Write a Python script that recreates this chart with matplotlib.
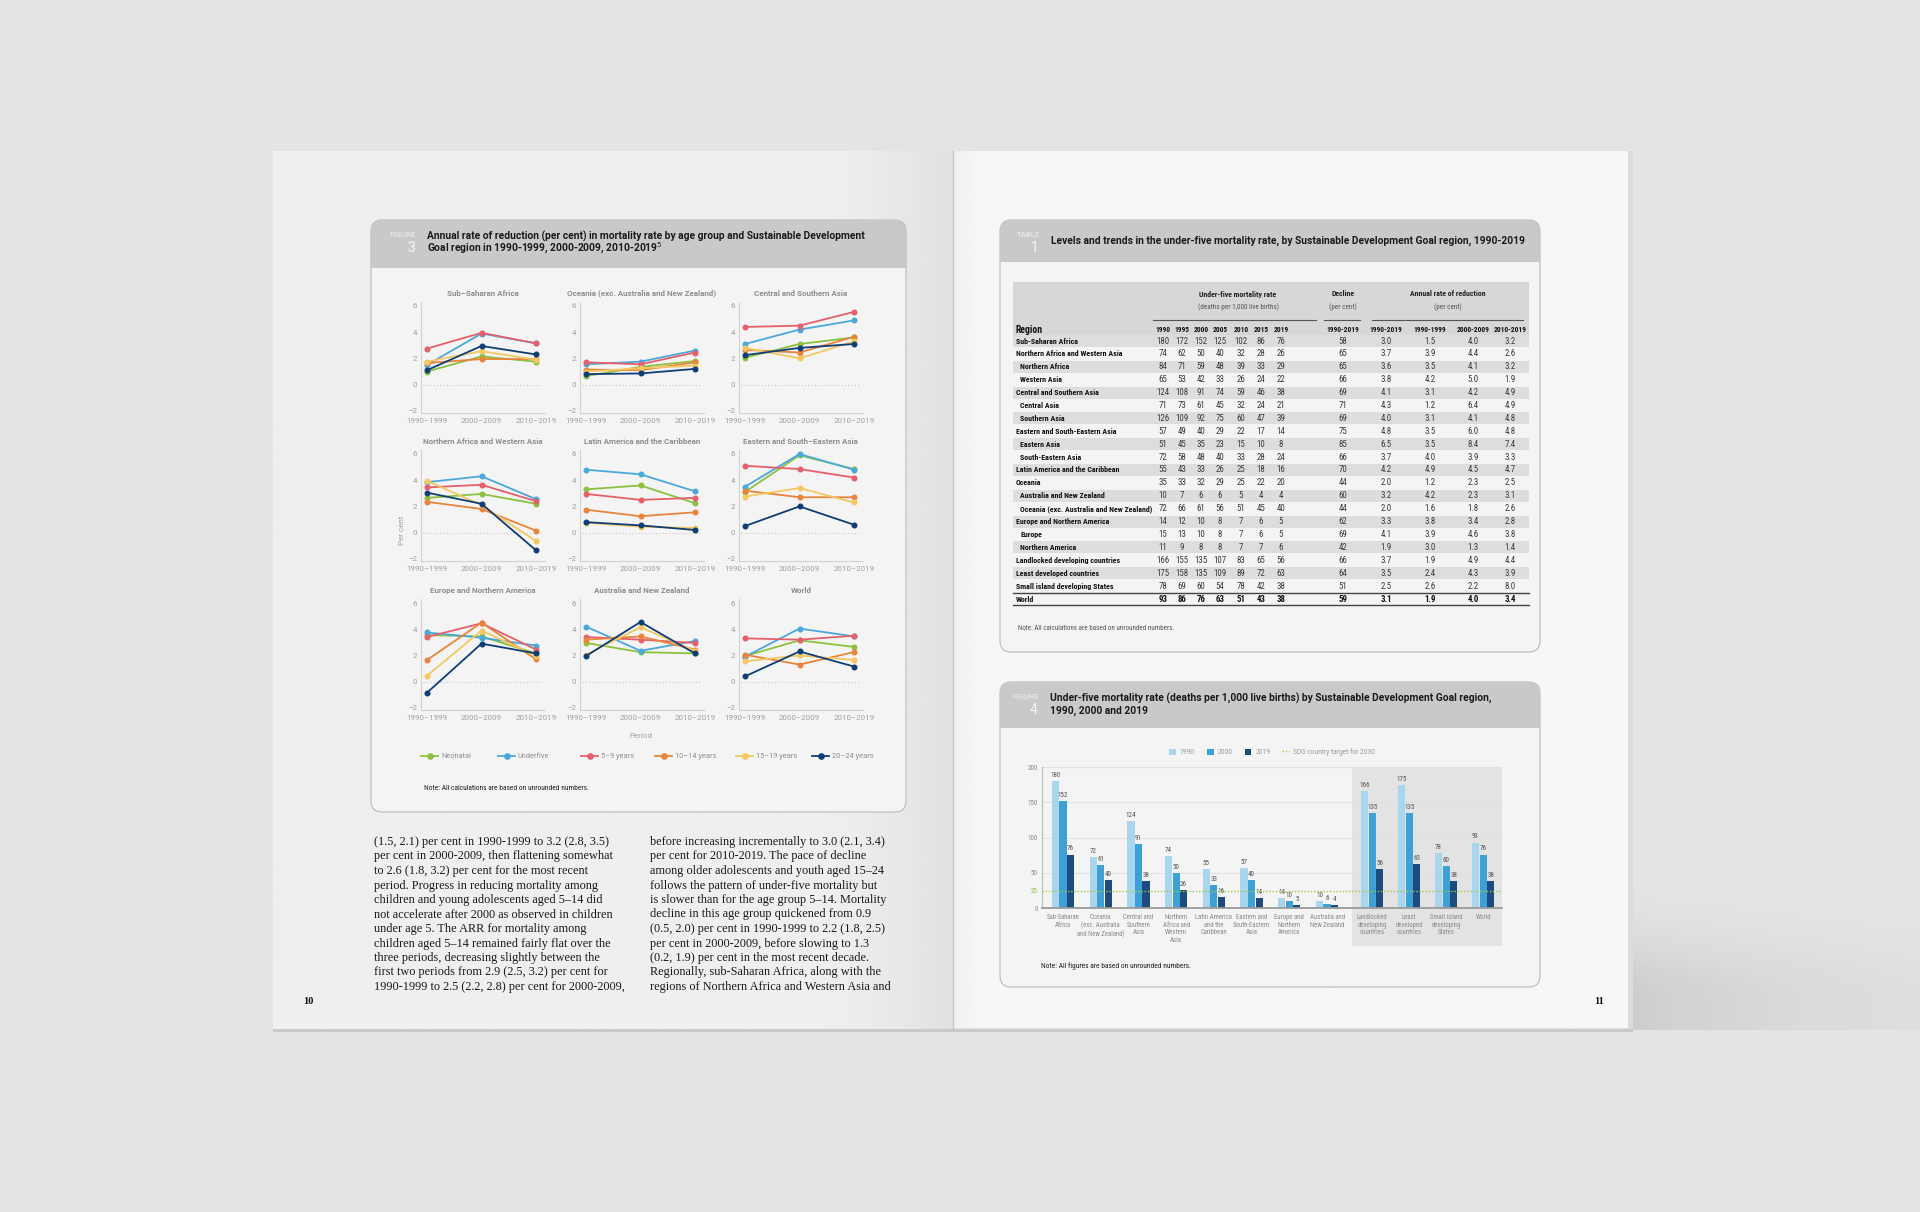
import numpy as np
import matplotlib
matplotlib.use('Agg')
import matplotlib.pyplot as plt
from matplotlib.patches import FancyBboxPatch, Rectangle, Patch
from matplotlib.lines import Line2D
from matplotlib import font_manager

W, H = 1920, 1212

# ---------------- Figure 3: annual rate of reduction (per cent)
PERIODS = ['1990–1999', '2000–2009', '2010–2019']
AGE_GROUPS = ['Neonatal', 'Underfive', '5–9 years', '10–14 years', '15–19 years', '20–24 years']
AGE_COLORS = ['#8dc03f', '#4aa8dc', '#e5606a', '#e9843c', '#f3c862', '#0f3e75']
F3_REGIONS = ['Sub–Saharan Africa', 'Oceania (exc. Australia and New Zealand)', 'Central and Southern Asia',
              'Northern Africa and Western Asia', 'Latin America and the Caribbean',
              'Eastern and South–Eastern Asia', 'Europe and Northern America',
              'Australia and New Zealand', 'World']
# one row per region (same order as F3_REGIONS), one value per period
NEONATAL = [[1.0, 2.15, 1.75], [0.65, 1.35, 1.8], [2.05, 3.1, 3.6],
            [2.65, 2.95, 2.2], [3.3, 3.6, 2.25], [3.1, 5.9, 4.85],
            [3.55, 3.45, 2.15], [2.95, 2.25, 2.15], [1.95, 3.15, 2.65]]
UNDERFIVE = [[1.5, 3.9, 3.15], [1.55, 1.75, 2.6], [3.1, 4.2, 4.9],
             [3.85, 4.3, 2.55], [4.8, 4.45, 3.15], [3.5, 6.0, 4.8],
             [3.75, 3.35, 2.75], [4.2, 2.35, 3.1], [1.9, 4.05, 3.45]]
AGE_5_9 = [[2.75, 3.95, 3.15], [1.7, 1.55, 2.45], [4.4, 4.5, 5.55],
           [3.45, 3.65, 2.4], [2.95, 2.5, 2.65], [5.1, 4.85, 4.2],
           [3.4, 4.45, 2.45], [3.4, 3.2, 2.95], [3.3, 3.2, 3.5]]
AGE_10_14 = [[1.65, 1.95, 1.95], [1.15, 1.1, 1.7], [2.65, 2.45, 3.65],
             [2.35, 1.8, 0.15], [1.75, 1.25, 1.55], [3.2, 2.7, 2.7],
             [1.65, 4.5, 1.7], [3.2, 3.45, 2.45], [2.05, 1.3, 2.25]]
AGE_15_19 = [[1.75, 2.55, 1.9], [1.0, 1.25, 1.45], [2.8, 2.0, 3.3],
             [3.95, 2.1, -0.65], [0.75, 0.45, 0.35], [2.75, 3.4, 2.3],
             [0.45, 3.9, 1.95], [2.05, 4.15, 2.35], [1.55, 2.0, 1.65]]
AGE_20_24 = [[1.1, 2.95, 2.3], [0.8, 0.85, 1.2], [2.25, 2.8, 3.1],
             [3.05, 2.2, -1.35], [0.8, 0.55, 0.2], [0.5, 2.0, 0.6],
             [-0.85, 2.9, 2.15], [1.95, 4.55, 2.15], [0.4, 2.3, 1.15]]
F3_SERIES = [NEONATAL, UNDERFIVE, AGE_5_9, AGE_10_14, AGE_15_19, AGE_20_24]

# ---------------- Table 1
T_REGIONS = ['Sub-Saharan Africa', 'Northern Africa and Western Asia', 'Northern Africa', 'Western Asia',
             'Central and Southern Asia', 'Central Asia', 'Southern Asia', 'Eastern and South-Eastern Asia',
             'Eastern Asia', 'South-Eastern Asia', 'Latin America and the Caribbean', 'Oceania',
             'Australia and New Zealand', 'Oceania (exc. Australia and New Zealand)',
             'Europe and Northern America', 'Europe', 'Northern America', 'Landlocked developing countries',
             'Least developed countries', 'Small island developing States', 'World']
T_SUB = [0, 0, 1, 1, 0, 1, 1, 0, 1, 1, 0, 0, 1, 1, 0, 1, 1, 0, 0, 0, 0]
T_YEARS = ['1990', '1995', '2000', '2005', '2010', '2015', '2019']
T_U5MR = [[180, 172, 152, 125, 102, 86, 76], [74, 62, 50, 40, 32, 28, 26], [84, 71, 59, 48, 39, 33, 29],
          [65, 53, 42, 33, 26, 24, 22], [124, 108, 91, 74, 59, 46, 38], [71, 73, 61, 45, 32, 24, 21],
          [126, 109, 92, 75, 60, 47, 39], [57, 49, 40, 29, 22, 17, 14], [51, 45, 35, 23, 15, 10, 8],
          [72, 58, 48, 40, 33, 28, 24], [55, 43, 33, 26, 25, 18, 16], [35, 33, 32, 29, 25, 22, 20],
          [10, 7, 6, 6, 5, 4, 4], [72, 66, 61, 56, 51, 45, 40], [14, 12, 10, 8, 7, 6, 5],
          [15, 13, 10, 8, 7, 6, 5], [11, 9, 8, 8, 7, 7, 6], [166, 155, 135, 107, 83, 65, 56],
          [175, 158, 135, 109, 89, 72, 63], [78, 69, 60, 54, 78, 42, 38], [93, 86, 76, 63, 51, 43, 38]]
T_DECLINE = [58, 65, 65, 66, 69, 71, 69, 75, 85, 66, 70, 44, 60, 44, 62, 69, 42, 66, 64, 51, 59]
T_ARR_PERIODS = ['1990-2019', '1990-1999', '2000-2009', '2010-2019']
T_ARR = [[3.0, 1.5, 4.0, 3.2], [3.7, 3.9, 4.4, 2.6], [3.6, 3.5, 4.1, 3.2], [3.8, 4.2, 5.0, 1.9],
         [4.1, 3.1, 4.2, 4.9], [4.3, 1.2, 6.4, 4.9], [4.0, 3.1, 4.1, 4.8], [4.8, 3.5, 6.0, 4.8],
         [6.5, 3.5, 8.4, 7.4], [3.7, 4.0, 3.9, 3.3], [4.2, 4.9, 4.5, 4.7], [2.0, 1.2, 2.3, 2.5],
         [3.2, 4.2, 2.3, 3.1], [2.0, 1.6, 1.8, 2.6], [3.3, 3.8, 3.4, 2.8], [4.1, 3.9, 4.6, 3.8],
         [1.9, 3.0, 1.3, 1.4], [3.7, 1.9, 4.9, 4.4], [3.5, 2.4, 4.3, 3.9], [2.5, 2.6, 2.2, 8.0],
         [3.1, 1.9, 4.0, 3.4]]

# ---------------- Figure 4: under-five mortality rate
F4_REGIONS = ['Sub-Saharan\nAfrica', 'Oceania\n(exc. Australia\nand New Zealand)', 'Central and\nSouthern\nAsia',
              'Northern\nAfrica and\nWestern\nAsia', 'Latin America\nand the\nCaribbean',
              'Eastern and\nSouth-Eastern\nAsia', 'Europe and\nNorthern\nAmerica', 'Australia and\nNew Zealand',
              'Landlocked\ndeveloping\ncountries', 'Least\ndeveloped\ncountries', 'Small island\ndeveloping\nStates',
              'World']
F4_1990 = [180, 72, 124, 74, 55, 57, 14, 10, 166, 175, 78, 93]
F4_2000 = [152, 61, 91, 50, 33, 40, 10, 6, 135, 135, 60, 76]
F4_2019 = [76, 40, 38, 26, 16, 14, 5, 4, 56, 63, 38, 38]
SDG_TARGET = 25

TEXT_COL1 = ["(1.5, 2.1) per cent in 1990-1999 to 3.2 (2.8, 3.5)",
             "per cent in 2000-2009, then flattening somewhat",
             "to 2.6 (1.8, 3.2) per cent for the most recent",
             "period. Progress in reducing mortality among",
             "children and young adolescents aged 5–14 did",
             "not accelerate after 2000 as observed in children",
             "under age 5. The ARR for mortality among",
             "children aged 5–14 remained fairly flat over the",
             "three periods, decreasing slightly between the",
             "first two periods from 2.9 (2.5, 3.2) per cent for",
             "1990-1999 to 2.5 (2.2, 2.8) per cent for 2000-2009,"]
TEXT_COL2 = ["before increasing incrementally to 3.0 (2.1, 3.4)",
             "per cent for 2010-2019. The pace of decline",
             "among older adolescents and youth aged 15–24",
             "follows the pattern of under-five mortality but",
             "is slower than for the age group 5–14. Mortality",
             "decline in this age group quickened from 0.9",
             "(0.5, 2.0) per cent in 1990-1999 to 2.2 (1.8, 2.5)",
             "per cent in 2000-2009, before slowing to 1.3",
             "(0.2, 1.9) per cent in the most recent decade.",
             "Regionally, sub-Saharan Africa, along with the",
             "regions of Northern Africa and Western Asia and"]

avail = {f.name for f in font_manager.fontManager.ttflist}


def pick(*names):
    for n in names:
        if n in avail:
            return n
    return 'DejaVu Sans'


NARROW = pick('Liberation Sans Narrow', 'Roboto Condensed', 'DejaVu Sans')
SANS = pick('Roboto', 'Lato', 'DejaVu Sans')
SERIF = pick('Liberation Serif', 'DejaVu Serif')

fig = plt.figure(figsize=(W / 100, H / 100), dpi=100, facecolor='#e4e4e4')
bg = fig.add_axes([0, 0, 1, 1])
bg.axis('off')


def px_axes(x0, y0, x1, y1):
    return fig.add_axes([x0 / W, 1 - y1 / H, (x1 - x0) / W, (y1 - y0) / H])


# ---------------- pages
t = np.linspace(0, 1, 256)
left_shade = 0.935 - 0.055 * np.clip((t - 0.8) / 0.2, 0, 1) ** 1.6
bg.imshow(np.tile(left_shade, (2, 1)), cmap='gray', vmin=0, vmax=1, extent=[273, 953, 1029, 151],
          interpolation='bilinear', aspect='auto')
right_shade = 0.968 - 0.03 * np.clip((0.05 - t) / 0.05, 0, 1) ** 2
bg.imshow(np.tile(right_shade, (2, 1)), cmap='gray', vmin=0, vmax=1, extent=[953, 1628, 1028, 151],
          interpolation='bilinear', aspect='auto')
# soft drop shadow to the right of the book
sy = np.linspace(0, 1, 160)
sx = np.linspace(0, 1, 200)
ay = np.clip(sy / 0.85, 0, 1) ** 2.2
ay = ay * ay * (3 - 2 * ay)
ax_ = np.exp(-sx * 1.4)
sh = np.zeros((160, 200, 4))
sh[..., 3] = 0.10 * ay[:, None] * ax_[None, :]
bg.imshow(sh, extent=[1633, 1920, 1030, 820], interpolation='bilinear', aspect='auto')
bg.add_patch(Rectangle((1628, 151), 5, 879, fc='#dcdcdc', ec='none'))
bg.add_patch(Rectangle((273, 1029), 1360, 2.5, fc='#c9c9c9', ec='none'))
bg.plot([953, 953], [151, 1029], color='#c4c4c4', lw=0.9)
bg.set_xlim(0, W)
bg.set_ylim(H, 0)

bg.text(308, 1002, '10', family=SERIF, fontweight='bold', fontsize=7.5, ha='center', va='center', color='#111')
bg.text(1599, 1001, '11', family=SERIF, fontweight='bold', fontsize=7.5, ha='center', va='center', color='#111')


def panel(x0, y0, x1, y1, head_bottom, kind, num, title_lines, title_x):
    box = FancyBboxPatch((x0, y0), x1 - x0, y1 - y0, boxstyle='round,pad=0,rounding_size=11',
                         fc='#f4f4f4', ec='#b9b9b9', lw=0.8)
    bg.add_patch(box)
    hd = Rectangle((x0, y0), x1 - x0, head_bottom - y0, fc='#c9c9c9', ec='none')
    bg.add_patch(hd)
    hd.set_clip_path(box)
    bg.text(title_x - 11, y0 + 15, kind, family=SANS, fontsize=5.8, color='#efefef', ha='right', va='center')
    bg.text(title_x - 12, y0 + 28, num, family=SANS, fontsize=10, color='#f7f7f7', ha='right', va='center')
    if len(title_lines) == 1:
        bg.text(title_x, y0 + 21, title_lines[0], family=SANS, fontweight='bold', fontsize=7.4,
                color='#1a1a1a', va='center')
    else:
        for i, ln in enumerate(title_lines):
            bg.text(title_x, y0 + 16 + 12.5 * i, ln, family=SANS, fontweight='bold', fontsize=7.4,
                    color='#1a1a1a', va='center')


# ---------------- Figure 3 panel
panel(371, 220, 906, 812, 268, 'FIGURE', '3',
      ['Annual rate of reduction (per cent) in mortality rate by age group and Sustainable Development',
       'Goal region in 1990-1999, 2000-2009, 2010-2019$^5$'], 427)

COL_P0 = [427, 586, 745]
ROW_Y6 = [306, 454, 603]
XU, YU = 54.5, 13.1
for k, name in enumerate(F3_REGIONS):
    r, c = divmod(k, 3)
    p0, y6 = COL_P0[c], ROW_Y6[r]
    ax = px_axes(p0 - 0.11 * XU, y6 - 0.3 * YU, p0 + 2.16 * XU, y6 + 8.2 * YU)
    ax.set_xlim(-0.11, 2.16)
    ax.set_ylim(-2.2, 6.3)
    ax.patch.set_alpha(0)
    for s in ['top', 'right']:
        ax.spines[s].set_visible(False)
    for s in ['left', 'bottom']:
        ax.spines[s].set_color('#d2d2d2')
        ax.spines[s].set_linewidth(0.8)
    ax.axhline(0, color='#c9c9c9', ls=(0, (1, 2)), lw=0.8, xmin=0.02, xmax=0.97)
    for vals, col in zip(F3_SERIES, AGE_COLORS):
        ax.plot(range(3), vals[k], color=col, lw=1.3, marker='o', ms=3.3, mec=col)
    ax.set_xticks(range(3))
    ax.set_xticklabels(PERIODS)
    ax.set_yticks([-2, 0, 2, 4, 6])
    ax.tick_params(length=0, labelsize=5.7, labelcolor='#a0a0a0', pad=3)
    for lb in ax.get_xticklabels() + ax.get_yticklabels():
        lb.set_family(SANS)
    ax.set_title(name, fontsize=5.8, color='#8e8e8e', fontweight='bold', family=SANS, pad=4.5)

bg.text(402, 530, 'Per cent', rotation=90, fontsize=5.8, color='#a0a0a0', family=SANS, ha='center', va='center')
bg.text(641, 736, 'Period', fontsize=5.8, color='#a0a0a0', family=SANS, ha='center', va='center')
# legend, evenly spaced entries as in the printed figure
for x0, lab, col in zip([421, 498, 581, 655, 736, 812], AGE_GROUPS, AGE_COLORS):
    bg.plot([x0, x0 + 17], [756, 756], color=col, lw=1.3)
    bg.plot([x0 + 8.5], [756], marker='o', ms=3.8, color=col)
    bg.text(x0 + 20, 756, lab, family=SANS, fontsize=5.3, color='#8e8e8e', va='center')
bg.text(424, 789, 'Note: All calculations are based on unrounded numbers.', family=NARROW, fontsize=5.4,
        color='#222', va='center')

# ---------------- Table 1 panel
panel(1000, 220, 1540, 652, 262, 'TABLE', '1',
      ['Levels and trends in the under-five mortality rate, by Sustainable Development Goal region, 1990-2019'],
      1051)

TX0, TX1 = 1013, 1529
COLX = [1163, 1182, 1201, 1220, 1241, 1261, 1281, 1343, 1386, 1430, 1473, 1510]
ROW0, PITCH = 341, 12.9
bg.add_patch(Rectangle((TX0, 282), TX1 - TX0, ROW0 - PITCH / 2 - 282, fc='#d7d7d7', ec='none'))
for i in range(len(T_REGIONS) - 1):
    if i % 2 == 0:
        bg.add_patch(Rectangle((TX0, ROW0 + PITCH * i - PITCH / 2 + 0.5), TX1 - TX0, PITCH - 1,
                               fc='#dddddd', ec='none'))
bg.text(1238, 294, 'Under-five mortality rate', family=NARROW, fontweight='bold', fontsize=5.6,
        ha='center', va='center', color='#222')
bg.text(1238, 307, '(deaths per 1,000 live births)', family=NARROW, fontsize=5.1, ha='center',
        va='center', color='#555')
bg.text(1343, 294, 'Decline', family=NARROW, fontweight='bold', fontsize=5.6, ha='center', va='center',
        color='#222')
bg.text(1343, 307, '(per cent)', family=NARROW, fontsize=5.1, ha='center', va='center', color='#555')
bg.text(1448, 294, 'Annual rate of reduction', family=NARROW, fontweight='bold', fontsize=5.6,
        ha='center', va='center', color='#222')
bg.text(1448, 307, '(per cent)', family=NARROW, fontsize=5.1, ha='center', va='center', color='#555')
for a, b in [(1153, 1316), (1324, 1360), (1372, 1523)]:
    bg.plot([a, b], [319.5, 319.5], color='#555', lw=0.8)
bg.text(1015, 330, 'Region', family=NARROW, fontweight='bold', fontsize=7, va='center', color='#111')
for x, lab in zip(COLX, T_YEARS + ['1990-2019'] + T_ARR_PERIODS):
    bg.text(x, 330, lab, family=NARROW, fontweight='bold', fontsize=5.3, ha='center', va='center',
            color='#111')
for i, reg in enumerate(T_REGIONS):
    y = ROW0 + PITCH * i
    is_world = reg == 'World'
    bg.text(1015.5 + 5 * T_SUB[i], y, reg, family=NARROW, fontweight='bold', fontsize=5.7,
            va='center', color='#111')
    cells = [str(v) for v in T_U5MR[i]] + [str(T_DECLINE[i])] + ['%.1f' % v for v in T_ARR[i]]
    for x, s in zip(COLX, cells):
        bg.text(x, y, s, family=NARROW, fontsize=6.4, fontweight='bold' if is_world else 'normal',
                ha='center', va='center', color='#111' if is_world else '#3a3a3a')
bg.plot([TX0, TX1], [ROW0 + PITCH * 19.5, ROW0 + PITCH * 19.5], color='#444', lw=1.0)
bg.plot([TX0, TX1], [ROW0 + PITCH * 20.5, ROW0 + PITCH * 20.5], color='#444', lw=1.0)
bg.text(1018, 629, 'Note: All calculations are based on unrounded numbers.', family=NARROW, fontsize=5.0,
        color='#555', va='center')

# ---------------- Figure 4 panel
panel(1000, 682, 1540, 987, 728, 'FIGURE', '4',
      ['Under-five mortality rate (deaths per 1,000 live births) by Sustainable Development Goal region,',
       '1990, 2000 and 2019'], 1050)

pos = np.concatenate([np.arange(8), 8.2 + np.arange(4) * 0.98])
ax4 = px_axes(1042, 767, 1502, 908.3)
ax4.set_xlim(-0.557, 11.64)
ax4.set_ylim(0, 200)
ax4.patch.set_alpha(0)
ax4.axvspan(7.67, 11.64, ymin=-0.265, ymax=1, color='#e3e3e3', zorder=0, clip_on=False, lw=0)
for gy in [50, 100, 150, 200]:
    ax4.axhline(gy, color='#e1e1e1', lw=0.8, zorder=0.5)
bw = 0.2
for off, vals, col in [(-bw, F4_1990, '#a9d5ee'), (0, F4_2000, '#3ea1d5'), (bw, F4_2019, '#1e4b7d')]:
    ax4.bar(pos + off, vals, bw * 0.96, color=col, zorder=2)
    for x, v in zip(pos + off, vals):
        ax4.text(x, v + 3, str(v), ha='center', va='bottom', fontsize=5.0, family=NARROW, color='#555')
ax4.axhline(SDG_TARGET, color='#9ccc4a', ls=(0, (1, 1.3)), lw=1.0, zorder=3)
for s in ['top', 'right']:
    ax4.spines[s].set_visible(False)
ax4.spines['left'].set_color('#bdbdbd')
ax4.spines['left'].set_linewidth(0.8)
ax4.spines['bottom'].set_color('#9a9a9a')
ax4.spines['bottom'].set_linewidth(1.3)
ax4.set_yticks([0, 25, 50, 100, 150, 200])
ax4.set_xticks(pos)
ax4.set_xticklabels(F4_REGIONS, linespacing=1.15)
ax4.tick_params(length=0, labelsize=5.0, labelcolor='#8a8a8a', pad=3)
ax4.tick_params(axis='x', labelsize=4.85, pad=4)
for lb in ax4.get_xticklabels() + ax4.get_yticklabels():
    lb.set_family(NARROW)
ax4.get_yticklabels()[1].set_color('#8dc03f')
handles4 = [Patch(fc='#a9d5ee'), Patch(fc='#3ea1d5'), Patch(fc='#1e4b7d'),
            Line2D([], [], color='#9ccc4a', ls=(0, (1, 1.3)), lw=1.0)]
ax4.legend(handles4, ['1990', '2000', '2019', 'SDG country target for 2030'], loc='center',
           bbox_to_anchor=(0.5, 1.106), ncol=4, frameon=False, handlelength=1.0, handleheight=1.0,
           handletextpad=0.6, columnspacing=1.8, borderpad=0, labelcolor='#9a9a9a',
           prop={'family': SANS, 'size': 4.8})
bg.text(1041, 966, 'Note: All figures are based on unrounded numbers.', family=NARROW, fontsize=5.4,
        color='#222', va='center')

# ---------------- body text (left page)
for i, ln in enumerate(TEXT_COL1):
    bg.text(374, 842 + 14.5 * i, ln, family=SERIF, fontsize=8.8, color='#1a1a1a', va='center')
for i, ln in enumerate(TEXT_COL2):
    bg.text(650, 842 + 14.5 * i, ln, family=SERIF, fontsize=8.8, color='#1a1a1a', va='center')

fig.savefig('out.png', dpi=100, facecolor=fig.get_facecolor())
